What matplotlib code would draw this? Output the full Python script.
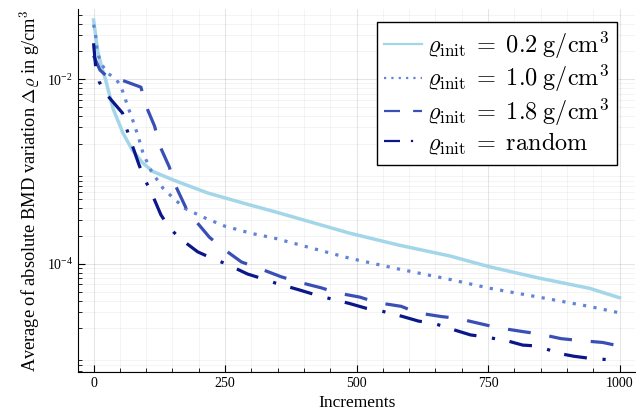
import numpy as np
import matplotlib
matplotlib.use("Agg")
import matplotlib.pyplot as plt
from matplotlib.ticker import FixedLocator, FixedFormatter, LogLocator, NullFormatter

plt.rcParams['font.family'] = ['Liberation Serif', 'DejaVu Serif']
plt.rcParams['mathtext.fontset'] = 'cm'

# ---- data ----
x_02 = [0, 8, 15, 23, 37, 56, 74, 94, 113, 154, 217, 297, 344, 487, 580, 677, 753, 848, 943, 1000]
y_02 = [0.0438, 0.020, 0.0137, 0.0098, 0.0048, 0.0026, 0.0017, 0.00123, 0.00100, 0.00080, 0.000586,
        0.000435, 0.000368, 0.000215, 0.000160, 0.000122, 0.000093, 0.000070, 0.0000544, 0.000043]

x_10 = [0, 3, 7, 16, 27, 43, 52, 59, 65, 72, 78, 84, 94, 110, 132, 148, 173, 211, 249, 300, 344,
        487, 580, 677, 753, 848, 943, 1000]
y_10 = [0.039, 0.033, 0.0193, 0.0143, 0.0116, 0.0100, 0.0083, 0.0065, 0.0050, 0.0040, 0.0031, 0.0025,
        0.00158, 0.00100, 0.00066, 0.00054, 0.00040, 0.000316, 0.000257, 0.000214, 0.00019,
        0.000115, 0.000088, 0.000068, 0.0000545, 0.0000435, 0.0000346, 0.0000295]

x_18 = [0, 12, 25, 49, 90, 100, 116, 125, 144, 154, 176, 192, 220, 245, 281, 316, 357, 392, 433,
        464, 506, 540, 585, 616, 661, 692, 737, 768, 813, 848, 889, 924, 968, 1000]
y_18 = [0.018, 0.0126, 0.0108, 0.0100, 0.0082, 0.0051, 0.0031, 0.00195, 0.00112, 0.00074, 0.00040,
        0.000302, 0.000195, 0.000148, 0.000105, 0.000089, 0.0000724, 0.0000631, 0.000055,
        0.0000484, 0.0000437, 0.000038, 0.0000347, 0.0000295, 0.0000269, 0.0000257, 0.0000224,
        0.0000204, 0.0000186, 0.0000174, 0.0000155, 0.0000148, 0.0000141, 0.0000129]

x_rnd = [0, 4, 8, 11, 25, 55, 62, 72, 86, 97, 110, 128, 143, 163, 198, 225, 252, 293, 321, 347, 390,
         419, 445, 487, 518, 547, 588, 618, 645, 688, 717, 745, 790, 816, 844, 886, 913, 943, 987, 1000]
y_rnd = [0.0245, 0.0135, 0.0115, 0.0093, 0.0068, 0.0043, 0.0030, 0.00204, 0.0012, 0.00083, 0.00059,
         0.00034, 0.000251, 0.000191, 0.000135, 0.000115, 0.0001, 0.0000776, 0.0000692, 0.0000617,
         0.0000525, 0.0000468, 0.0000427, 0.0000372, 0.0000331, 0.0000309, 0.0000269, 0.000024,
         0.0000229, 0.0000191, 0.000017, 0.0000162, 0.0000145, 0.0000132, 0.0000129, 0.0000107,
         0.0000100, 0.0000095, 0.0000091, 0.0000093]

labels = [r'$\varrho_{\mathrm{init}} \;=\; 0.2\;\mathrm{g/cm^3}$',
          r'$\varrho_{\mathrm{init}} \;=\; 1.0\;\mathrm{g/cm^3}$',
          r'$\varrho_{\mathrm{init}} \;=\; 1.8\;\mathrm{g/cm^3}$',
          r'$\varrho_{\mathrm{init}} \;=\; \mathrm{random}$']

x_ticks = [0, 250, 500, 750, 1000]

# ---- plot ----
fig = plt.figure(figsize=(6.43, 4.19), dpi=100)
ax = fig.add_axes([0.121, 0.113, 0.867, 0.865])

lw = 2.3
ax.plot(x_02, y_02, color='#a3d6e8', lw=lw + 0.2, linestyle='-', label=labels[0])
ax.plot(x_10, y_10, color='#6283d6', lw=lw, linestyle=(0, (1, 2.3)), label=labels[1])
ax.plot(x_18, y_18, color='#3a4fb5', lw=lw, linestyle=(0, (7.2, 5.9)), label=labels[2])
ax.plot(x_rnd, y_rnd, color='#0a168a', lw=lw, linestyle=(0, (7.2, 4.9, 1, 4.6)), label=labels[3])

ax.set_yscale('log')
ax.set_xlim(-30, 1030)
ax.set_ylim(10 ** -5.167, 10 ** -1.242)

ax.xaxis.set_major_locator(FixedLocator(x_ticks))
ax.xaxis.set_minor_locator(FixedLocator(np.arange(0, 1001, 50)))
ax.yaxis.set_major_locator(FixedLocator([1e-4, 1e-2]))
ax.yaxis.set_major_formatter(FixedFormatter([r'$\mathregular{10^{-4}}$', r'$\mathregular{10^{-2}}$']))
ax.yaxis.set_minor_locator(LogLocator(base=10, subs=np.arange(2, 10), numticks=20))
ax.yaxis.set_minor_formatter(NullFormatter())

ax.tick_params(which='both', direction='in', labelsize=10, color='black')
ax.tick_params(which='major', length=5)
ax.tick_params(which='minor', length=3)

ax.grid(which='major', color='#000000', alpha=0.1, lw=0.8)
ax.grid(which='minor', color='#000000', alpha=0.05, lw=0.6)

for s in ['top', 'right']:
    ax.spines[s].set_visible(False)

ax.set_xlabel('Increments', fontsize=12.5)
ax.set_ylabel(r'Average of absolute BMD variation $\Delta\varrho$ in g/cm$^3$', fontsize=13.2, labelpad=3)

leg = ax.legend(loc='upper right', bbox_to_anchor=(0.967, 0.966), borderaxespad=0,
                fontsize=17.5, fancybox=False, framealpha=1, edgecolor='black',
                handlelength=1.55, handletextpad=0.2, labelspacing=0.08, borderpad=0.32)
leg.get_frame().set_linewidth(1.0)
for h in leg.get_lines():
    h.set_linewidth(1.6)

fig.savefig('out.png', dpi=100)
